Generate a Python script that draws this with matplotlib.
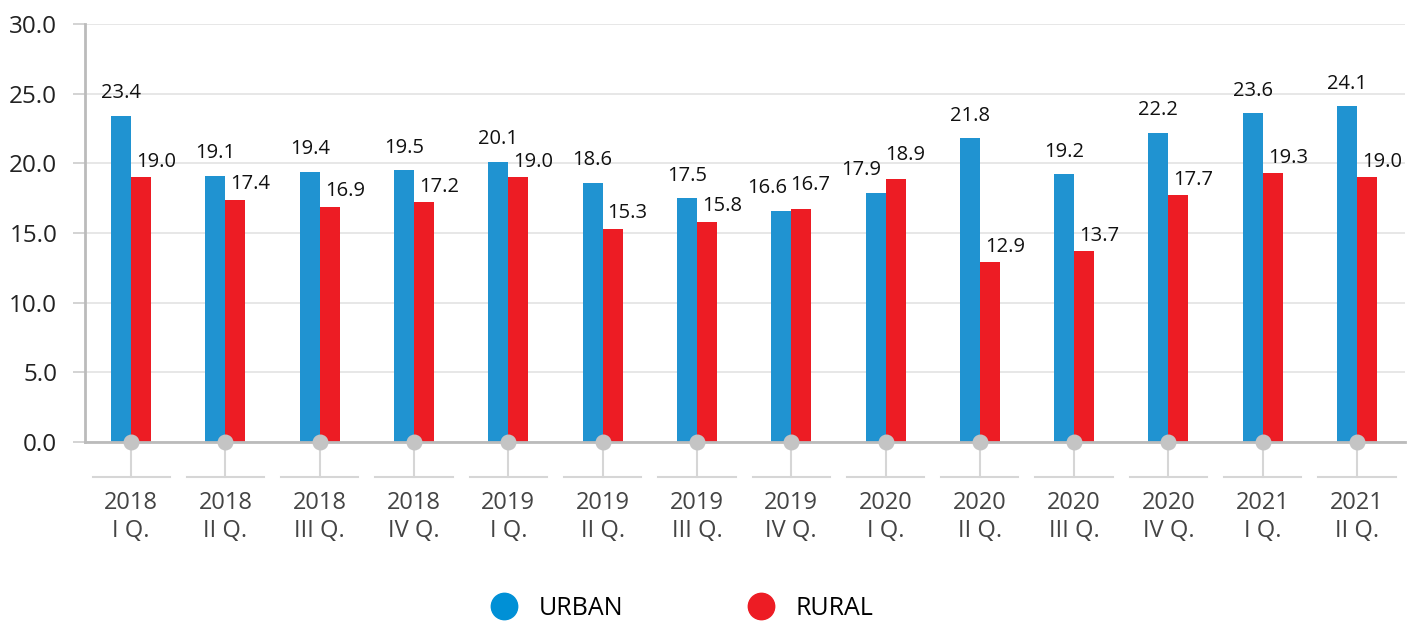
import numpy as np
import matplotlib.pyplot as plt
from matplotlib.lines import Line2D

# 数据
years = ['2018', '2018', '2018', '2018', '2019', '2019', '2019', '2019',
         '2020', '2020', '2020', '2020', '2021', '2021']
quarters = ['I Q.', 'II Q.', 'III Q.', 'IV Q.', 'I Q.', 'II Q.', 'III Q.', 'IV Q.',
            'I Q.', 'II Q.', 'III Q.', 'IV Q.', 'I Q.', 'II Q.']
urban = [23.4, 19.1, 19.4, 19.5, 20.1, 18.6, 17.5, 16.6, 17.9, 21.8, 19.2, 22.2, 23.6, 24.1]
rural = [19.0, 17.4, 16.9, 17.2, 19.0, 15.3, 15.8, 16.7, 18.9, 12.9, 13.7, 17.7, 19.3, 19.0]

blue = '#2093d1'
red = '#ed1c24'
grey = '#c4c4c4'

plt.rcParams['font.family'] = ['Open Sans', 'DejaVu Sans']

fig = plt.figure(figsize=(14.21, 6.23), dpi=100)
ax = fig.add_axes([0.0598, 0.2905, 0.929, 0.671])

x = np.arange(len(urban))
w = 0.212
ax.bar(x - w / 2, urban, width=w, color=blue, zorder=2)
ax.bar(x + w / 2, rural, width=w, color=red, zorder=2)

# 数值标签（两值接近时左右错开）
for i in range(len(x)):
    close = abs(urban[i] - rural[i]) < 1.05
    bdx, rdx, rdy = (-0.15, 0.10, 1.0) if close else (0.0, 0.16, 0.4)
    ax.text(x[i] - w / 2 + bdx, urban[i] + 0.9, f'{urban[i]:.1f}', ha='center', va='bottom',
            fontsize=14.5, color='#111111')
    ax.text(x[i] + w / 2 + rdx, rural[i] + rdy, f'{rural[i]:.1f}', ha='center', va='bottom',
            fontsize=14.5, color='#111111')

ax.set_xlim(-0.49, 13.51)
ax.set_ylim(0, 30)
ax.set_yticks(np.arange(0, 31, 5))
ax.set_yticklabels([f'{v:.1f}' for v in np.arange(0, 31, 5)], fontsize=17.5, color='#222222')
ax.yaxis.grid(True, color='#e3e3e3', linewidth=1.2, zorder=0)
ax.tick_params(axis='y', length=9, width=1.2, color='#cccccc', pad=11)

ax.set_xticks(x)
ax.set_xticklabels([y + '\n' + q for y, q in zip(years, quarters)], fontsize=17,
                   color='#444444', linespacing=1.27)
ax.tick_params(axis='x', length=0, pad=35)

for s in ['top', 'right']:
    ax.spines[s].set_visible(False)
ax.spines['left'].set_color('#bbbbbb')
ax.spines['left'].set_linewidth(2)
ax.spines['bottom'].set_color('#bbbbbb')
ax.spines['bottom'].set_linewidth(2)
ax.spines['bottom'].set_zorder(3)

# 坐标轴下方的点和线
for xi in x:
    ax.plot([xi, xi], [0, -2.5], color='#d6d6d6', lw=1.5, clip_on=False, zorder=1)
    ax.plot([xi - 0.41, xi + 0.41], [-2.5, -2.5], color='#d6d6d6', lw=1.5, clip_on=False, zorder=1)
ax.scatter(x, np.zeros(len(x)), s=110, color=grey, zorder=4, clip_on=False)

# 图例
handles = [Line2D([], [], marker='o', ls='', markersize=19, color='#0090d6'),
           Line2D([], [], marker='o', ls='', markersize=19, color=red)]
fig.legend(handles, ['URBAN', 'RURAL'], loc='center', bbox_to_anchor=(0.476, 0.024),
           ncol=2, frameon=False, fontsize=18, columnspacing=4.5, handletextpad=0.4)

fig.savefig('out.png', dpi=100)
